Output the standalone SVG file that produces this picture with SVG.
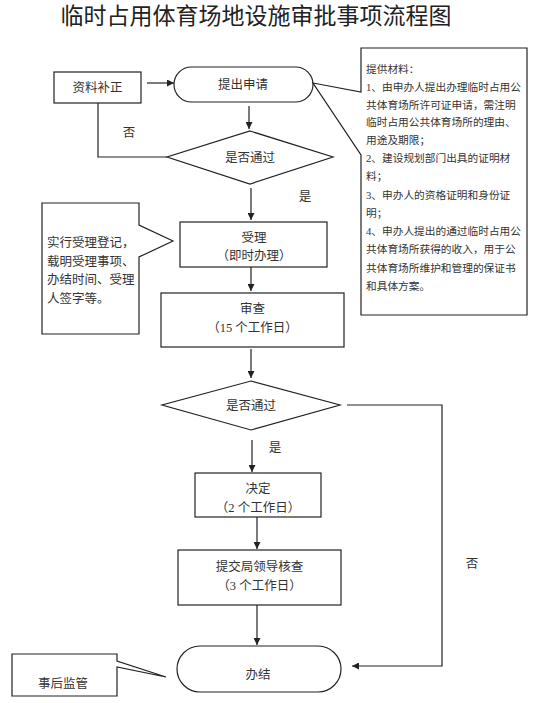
<svg xmlns="http://www.w3.org/2000/svg" width="555" height="703" viewBox="0 0 555 703">
<style>
  .shape { fill: #fff; stroke: #222; stroke-width: 1.2; }
  .line { fill: none; stroke: #222; stroke-width: 1.2; }
  text { font-family: "Liberation Serif", "Noto Sans CJK SC", serif; fill: #333; }
  .t { font-size: 12.5px; text-anchor: middle; }
  .note { font-size: 12.5px; }
  .small { font-size: 10.7px; }
  .title { font-size: 23px; text-anchor: middle; fill: #222; }
</style>
<defs>
  <marker id="arr" viewBox="0 0 10 10" refX="10" refY="5" markerWidth="7" markerHeight="7" markerUnits="userSpaceOnUse" orient="auto">
    <path d="M0,0 L10,5 L0,10 Z" fill="#222"/>
  </marker>
</defs>
<rect width="555" height="703" fill="#fff"/>
<text class="title" x="256" y="24">临时占用体育场地设施审批事项流程图</text>

<g id="connectors">
  <line class="line" x1="147" y1="83" x2="174" y2="83" marker-end="url(#arr)"/>
  <line class="line" x1="249" y1="106" x2="249" y2="129" marker-end="url(#arr)"/>
  <polyline class="line" points="98,103 98,157 167,157"/>
  <line class="line" x1="251" y1="188" x2="251" y2="220" marker-end="url(#arr)"/>
  <line class="line" x1="251" y1="267" x2="251" y2="291" marker-end="url(#arr)"/>
  <line class="line" x1="251" y1="349" x2="251" y2="378" marker-end="url(#arr)"/>
  <polyline class="line" points="347,405 442,405 442,666 352,666" marker-end="url(#arr)"/>
  <line class="line" x1="252" y1="440" x2="252" y2="472" marker-end="url(#arr)"/>
  <line class="line" x1="257" y1="517" x2="257" y2="549" marker-end="url(#arr)"/>
  <line class="line" x1="257" y1="605" x2="257" y2="645" marker-end="url(#arr)"/>
  <text class="t" x="129" y="136.5">否</text>
  <text class="t" x="305" y="200.5">是</text>
  <text class="t" x="275" y="451.5">是</text>
  <text class="t" x="472" y="567.5">否</text>
</g>

<g id="n-buzheng">
  <rect class="shape" x="54" y="72" width="87" height="31"/>
  <text class="t" x="97.5" y="92">资料补正</text>
</g>

<g id="n-tichu">
  <rect class="shape" x="174" y="67" width="139" height="35" rx="17.5"/>
  <text class="t" x="243" y="89">提出申请</text>
</g>

<g id="n-cailiao">
  <path class="shape" d="M361,48 H527 V315 H361 V155 L313,83 L361,92 Z"/>
  <text class="small" x="366" y="72.7">提供材料：</text>
  <text class="small" x="366" y="90.7">1、由申办人提出办理临时占用公</text>
  <text class="small" x="366" y="108.7">共体育场所许可证申请，需注明</text>
  <text class="small" x="366" y="125.7">临时占用公共体育场所的理由、</text>
  <text class="small" x="366" y="143.7">用途及期限；</text>
  <text class="small" x="366" y="161.7">2、建设规划部门出具的证明材</text>
  <text class="small" x="366" y="179.7">料；</text>
  <text class="small" x="366" y="198.7">3、申办人的资格证明和身份证</text>
  <text class="small" x="366" y="216.7">明；</text>
  <text class="small" x="366" y="234.7">4、申办人提出的通过临时占用公</text>
  <text class="small" x="366" y="252.7">共体育场所获得的收入，用于公</text>
  <text class="small" x="366" y="271.7">共体育场所维护和管理的保证书</text>
  <text class="small" x="366" y="289.7">和具体方案。</text>
</g>

<g id="n-d1">
  <polygon class="shape" points="250,131 333,157 250,184 167,157"/>
  <text class="t" x="250" y="162">是否通过</text>
</g>

<g id="n-shouli">
  <rect class="shape" x="180" y="222" width="147" height="45"/>
  <text class="t" x="254" y="241.5">受理</text>
  <text class="t" x="254" y="259.5">（即时办理）</text>
</g>

<g id="n-note1">
  <path class="shape" d="M42,203 H139 V225 L173,241 L139,257 V334 H42 Z"/>
  <text class="note" x="47" y="246.5">实行受理登记，</text>
  <text class="note" x="47" y="265.5">载明受理事项、</text>
  <text class="note" x="47" y="283.5">办结时间、受理</text>
  <text class="note" x="47" y="302.5">人签字等。</text>
</g>

<g id="n-shencha">
  <rect class="shape" x="161" y="293" width="183" height="54"/>
  <text class="t" x="252.5" y="312.5">审查</text>
  <text class="t" x="252.5" y="331.5">（15 个工作日）</text>
</g>

<g id="n-d2">
  <polygon class="shape" points="251,381 340,405 251,430 162,405"/>
  <text class="t" x="251" y="410">是否通过</text>
</g>

<g id="n-jueding">
  <rect class="shape" x="195" y="473" width="126" height="44"/>
  <text class="t" x="258" y="492.5">决定</text>
  <text class="t" x="258" y="511.5">（2 个工作日）</text>
</g>

<g id="n-tijiao">
  <rect class="shape" x="178" y="550" width="163" height="55"/>
  <text class="t" x="259.5" y="570.5">提交局领导核查</text>
  <text class="t" x="259.5" y="589.5">（3 个工作日）</text>
</g>

<g id="n-banjie">
  <rect class="shape" x="177" y="646" width="164" height="46" rx="23"/>
  <text class="t" x="258" y="679">办结</text>
</g>

<g id="n-jianguan">
  <path class="shape" d="M12,654 H117 V661 L166,677 L117,667 V696 H12 Z"/>
  <text class="t" x="63" y="687.5">事后监管</text>
</g>
</svg>
